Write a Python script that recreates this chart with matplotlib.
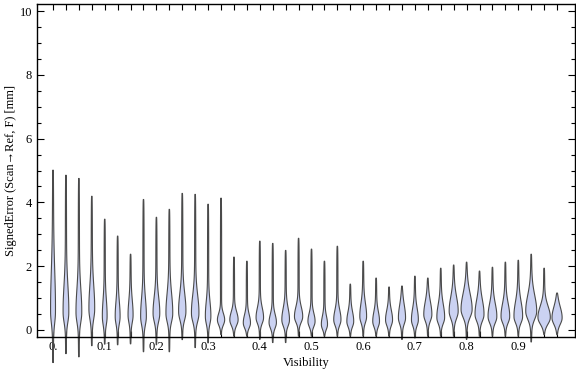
import numpy as np
import matplotlib
matplotlib.use("Agg")
import matplotlib.pyplot as plt
from matplotlib.ticker import MultipleLocator

plt.rcParams['font.family'] = ['Liberation Serif', 'DejaVu Serif']

# visibility bins (violin positions)
visibility = [0.0, 0.025, 0.05, 0.075, 0.1, 0.125, 0.15, 0.175, 0.2, 0.225,
              0.25, 0.275, 0.3, 0.325, 0.35, 0.375, 0.4, 0.425, 0.45, 0.475,
              0.5, 0.525, 0.55, 0.575, 0.6, 0.625, 0.65, 0.675, 0.7, 0.725,
              0.75, 0.775, 0.8, 0.825, 0.85, 0.875, 0.9, 0.925, 0.95, 0.975]

# signed error range per bin [mm]
err_max = [5.02, 4.86, 4.76, 4.20, 3.48, 2.95, 2.38, 4.10, 3.54, 3.79,
           4.29, 4.26, 3.95, 4.14, 2.29, 2.16, 2.79, 2.72, 2.50, 2.88,
           2.54, 2.16, 2.63, 1.44, 2.16, 1.63, 1.35, 1.38, 1.69, 1.63,
           1.94, 2.04, 2.13, 1.85, 1.97, 2.13, 2.19, 2.38, 1.94, 1.16]
err_min = [-1.03, -0.75, -0.85, -0.50, -0.45, -0.47, -0.44, -0.69, -0.47, -0.69,
           -0.31, -0.56, -0.41, -0.15, -0.20, -0.20, -0.30, -0.40, -0.40, -0.20,
           -0.20, -0.20, -0.20, -0.20, -0.20, -0.20, -0.20, -0.30, -0.25, -0.20,
           -0.20, -0.20, -0.30, -0.20, -0.20, -0.20, -0.20, -0.38, -0.15, -0.15]

# density shape: mode, peak width (px), spread above / below mode
err_mode = [0.55, 0.53, 0.53, 0.63, 0.40, 0.40, 0.45, 0.40, 0.50, 0.50,
            0.55, 0.50, 0.40, 0.30, 0.30, 0.20, 0.37, 0.22, 0.30, 0.40,
            0.25, 0.15, 0.30, 0.25, 0.40, 0.25, 0.30, 0.37, 0.30, 0.47,
            0.37, 0.57, 0.63, 0.47, 0.40, 0.40, 0.40, 0.57, 0.37, 0.37]
peak_px = [4, 5, 5, 5, 4, 4, 4, 5, 6, 6,
           7, 7, 5, 8, 8, 7, 7, 7, 7, 8,
           7, 6, 7, 6, 6, 6, 6, 6, 6, 7,
           7, 8, 10, 8, 8, 8, 8, 10, 12, 9]
spread_up = [1.20, 0.80, 0.70, 0.70, 0.50, 0.45, 0.45, 0.55, 0.50, 0.60,
             0.55, 0.55, 0.45, 0.20, 0.25, 0.25, 0.30, 0.25, 0.35, 0.30,
             0.25, 0.25, 0.30, 0.30, 0.40, 0.30, 0.30, 0.40, 0.35, 0.40,
             0.40, 0.45, 0.50, 0.45, 0.40, 0.40, 0.45, 0.50, 0.35, 0.35]
spread_dn = [0.35, 0.30, 0.30, 0.30, 0.25, 0.22, 0.22, 0.25, 0.25, 0.25,
             0.25, 0.25, 0.22, 0.16, 0.17, 0.15, 0.17, 0.17, 0.18, 0.17,
             0.16, 0.14, 0.17, 0.16, 0.18, 0.16, 0.17, 0.18, 0.17, 0.19,
             0.18, 0.22, 0.24, 0.20, 0.19, 0.19, 0.19, 0.24, 0.20, 0.20]

tick_labels = ["0.", "0.1", "0.2", "0.3", "0.4", "0.5", "0.6", "0.7", "0.8", "0.9"]

fig = plt.figure(figsize=(5.76, 3.77), dpi=100)
ax = fig.add_axes([37 / 576, 40 / 377, 538 / 576, 333 / 377])
ax.set_xlim(-0.031, 1.0097)
ax.set_ylim(-0.22, 10.22)

px = 1.0 / 517  # x units per pixel
for i, x in enumerate(visibility):
    lo, hi, c = err_min[i], err_max[i], err_mode[i]
    y = np.linspace(lo, hi, 400)
    s = np.where(y < c, spread_dn[i], spread_up[i])
    body = peak_px[i] / 2 * px * np.exp(-0.5 * ((y - c) / s) ** 2)
    taper = np.sqrt(np.clip((y - lo) * (hi - y), 0, None)) / ((hi - lo) / 2)
    w = (body + 0.6 * px) * np.clip(taper, 0, 1) ** 0.5
    xs = np.concatenate([x - w, (x + w)[::-1]])
    ys = np.concatenate([y, y[::-1]])
    ax.fill(xs, ys, facecolor='#cbd2f2', edgecolor='#4a4a4a', linewidth=0.8,
            clip_on=False, zorder=2)

ax.set_xticks(visibility)
ax.set_xticklabels([tick_labels[i // 4] if i % 4 == 0 else "" for i in range(len(visibility))])
ax.set_yticks(np.arange(0, 11, 2))
ax.set_yticklabels(["0", "2", "4", "6", "8", "10"])
ax.yaxis.set_minor_locator(MultipleLocator(0.5))

ax.tick_params(axis='x', which='major', direction='in', length=4, width=0.8,
               top=True, labelsize=9, pad=3)
ax.tick_params(axis='y', which='major', direction='in', length=5, width=0.8,
               right=True, labelsize=9, pad=3.5)
ax.tick_params(axis='y', which='minor', direction='in', length=3, width=0.8,
               right=True)
for sp in ax.spines.values():
    sp.set_linewidth(1.0)
    sp.set_zorder(3)

ax.set_xlabel("Visibility", fontsize=9, labelpad=3)
ax.set_ylabel("SignedError (Scan\u2192Ref, F) [mm]", fontsize=9)
ax.yaxis.set_label_coords(-20 / 538, 0.5)

fig.savefig("out.png", dpi=100)
